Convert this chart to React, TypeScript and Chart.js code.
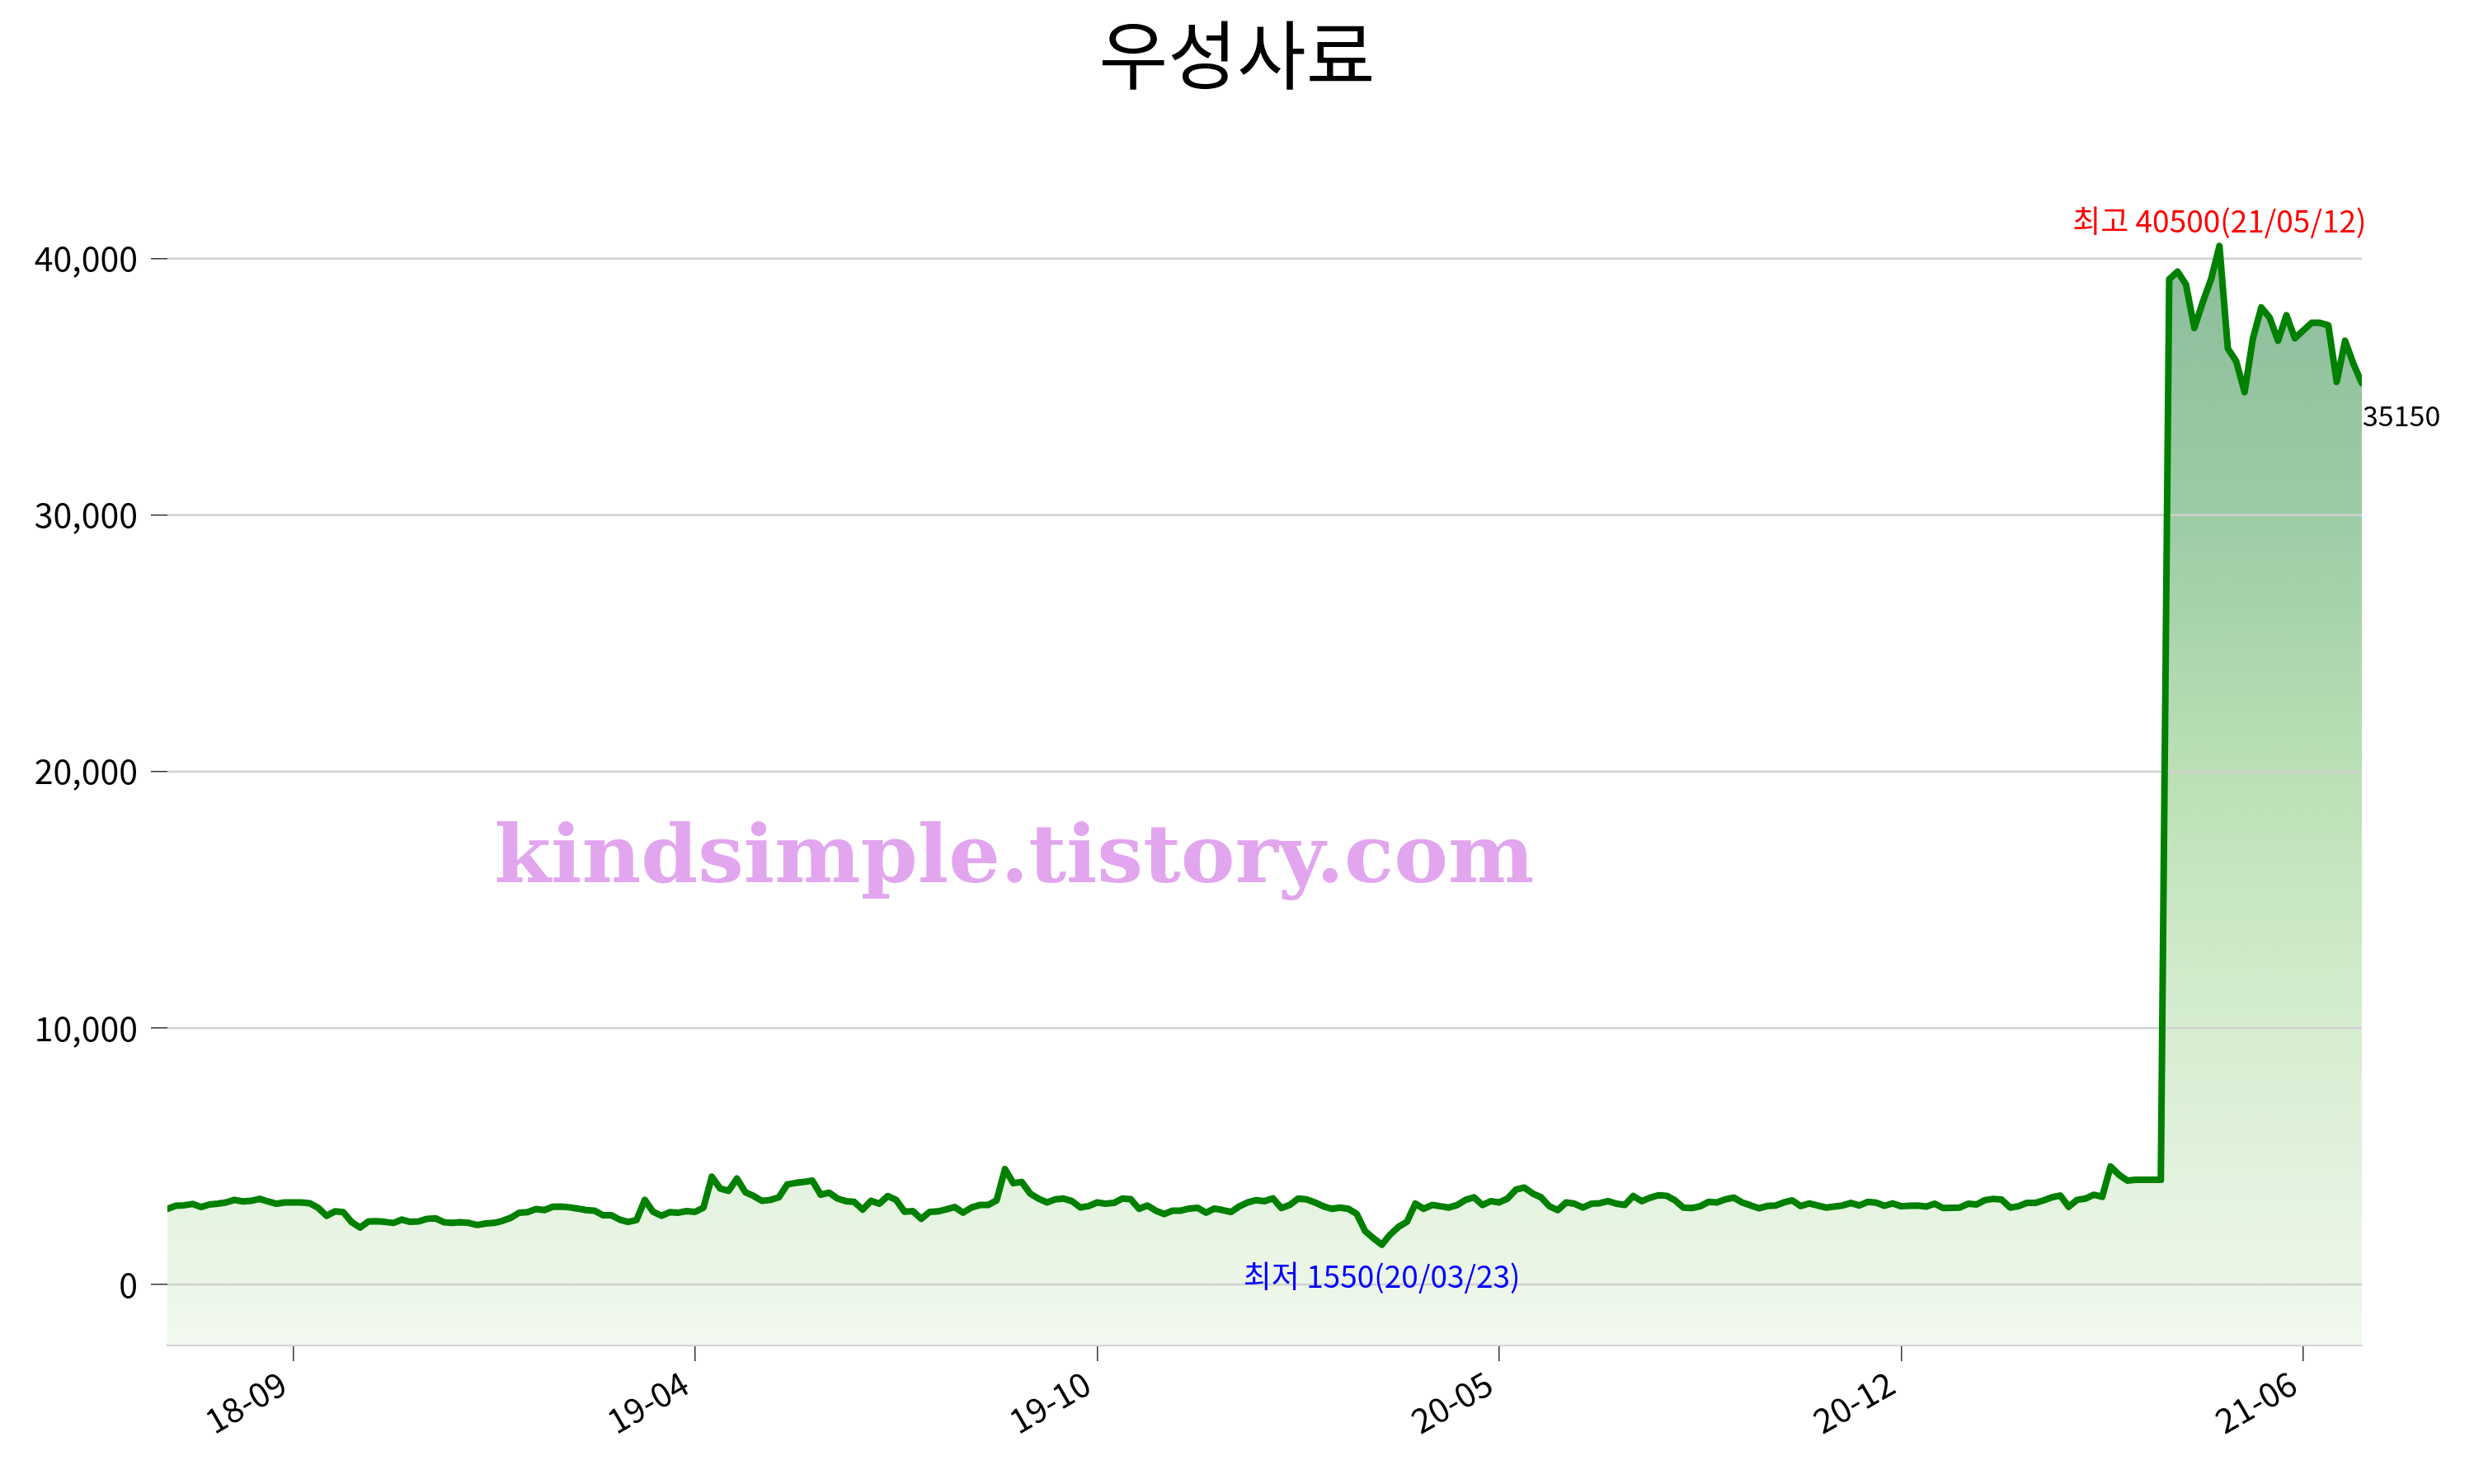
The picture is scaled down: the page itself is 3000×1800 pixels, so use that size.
import React, { useEffect, useRef } from "react";
import { Chart, registerables } from "chart.js";

Chart.register(...registerables);

const chartTitle = "우성사료";
const watermarkText = "kindsimple.tistory.com";

// closing prices, sampled roughly every 3 trading days (2018-07 .. 2021-07)
const prices: number[] = [
  2950, 3070, 3090, 3140, 3020, 3120, 3150, 3200, 3300, 3240,
  3260, 3340, 3240, 3150, 3200, 3200, 3200, 3170, 2990, 2680,
  2850, 2820, 2430, 2220, 2460, 2470, 2440, 2400, 2530, 2440,
  2460, 2560, 2580, 2430, 2400, 2430, 2400, 2320, 2380, 2400,
  2480, 2600, 2800, 2820, 2940, 2900, 3030, 3040, 3010, 2960,
  2900, 2880, 2700, 2700, 2530, 2440, 2510, 3300, 2830, 2680,
  2820, 2800, 2860, 2830, 3000, 4200, 3740, 3650, 4130, 3600,
  3450, 3260, 3300, 3400, 3900, 3960, 4000, 4050, 3500, 3580,
  3350, 3250, 3220, 2920, 3260, 3150, 3450, 3300, 2840, 2860,
  2560, 2830, 2850, 2930, 3020, 2800, 3000, 3100, 3100, 3280,
  4500, 3950, 4000, 3550, 3350, 3200, 3320, 3350, 3250, 3000,
  3060, 3200, 3150, 3180, 3350, 3330, 2950, 3080, 2880, 2750,
  2880, 2880, 2960, 2990, 2800, 2960, 2900, 2830, 3050, 3200,
  3290, 3250, 3360, 2980, 3100, 3350, 3320, 3200, 3050, 2950,
  3000, 2950, 2750, 2080, 1800, 1550, 1950, 2250, 2450, 3150,
  2950, 3100, 3050, 3000, 3100, 3300, 3400, 3100, 3250, 3200,
  3350, 3700, 3780, 3550, 3400, 3050, 2900, 3200, 3150, 3000,
  3150, 3170, 3250, 3150, 3100, 3450, 3250, 3380, 3480, 3460,
  3280, 3000, 2980, 3050, 3220, 3200, 3320, 3390, 3200, 3090,
  2970, 3060, 3080, 3200, 3280, 3060, 3160, 3080, 3000, 3040,
  3080, 3180, 3080, 3220, 3190, 3070, 3160, 3050, 3070, 3080,
  3040, 3150, 2980, 2990, 3000, 3150, 3120, 3290, 3340, 3310,
  3000, 3050, 3180, 3180, 3280, 3400, 3470, 3030, 3300, 3350,
  3500, 3420, 4600, 4280, 4050, 4080, 4080, 4080, 4080, 39200,
  39500, 39000, 37300, 38300, 39200, 40500, 36500, 36000, 34800, 36900,
  38100, 37700, 36800, 37800, 36900, 37200, 37500, 37500, 37400, 35200,
  36800, 35900, 35150,
];

const xTickIndex: number[] = [15, 63, 111, 159, 207, 255];
const xTickLabels: string[] = ["18-09", "19-04", "19-10", "20-05", "20-12", "21-06"];
const yTickValues: number[] = [0, 10000, 20000, 30000, 40000];

const maxDateLabel = "21/05/12";
const minDateLabel = "20/03/23";

const FONT = '"Noto Sans CJK KR", "Noto Sans", sans-serif';

export default function App() {
  const canvasRef = useRef<HTMLCanvasElement | null>(null);

  useEffect(() => {
    const canvas = canvasRef.current;
    if (!canvas) return;

    const maxVal = Math.max(...prices);
    const minVal = Math.min(...prices);
    const maxIdx = prices.indexOf(maxVal);
    const minIdx = prices.indexOf(minVal);
    const lastIdx = prices.length - 1;

    const gridOverFill = {
      id: "gridOverFill",
      beforeDatasetDraw(chart: any) {
        const { ctx, chartArea, scales } = chart;
        ctx.save();
        ctx.strokeStyle = "rgb(208,208,208)";
        ctx.lineWidth = 2.5;
        for (const v of yTickValues) {
          const y = scales.y.getPixelForValue(v);
          ctx.beginPath();
          ctx.moveTo(chartArea.left, y);
          ctx.lineTo(chartArea.right, y);
          ctx.stroke();
        }
        ctx.restore();
      },
    };

    const decorations = {
      id: "decorations",
      afterDatasetsDraw(chart: any) {
        const { ctx, scales } = chart;
        const xs = scales.x;
        const ys = scales.y;
        ctx.save();
        // title
        ctx.fillStyle = "#000";
        ctx.font = `91px ${FONT}`;
        ctx.textAlign = "center";
        ctx.textBaseline = "middle";
        ctx.fillText(chartTitle, 1500, 66);

        // max annotation
        ctx.font = `37px ${FONT}`;
        ctx.textBaseline = "alphabetic";
        ctx.fillStyle = "red";
        ctx.textAlign = "center";
        ctx.fillText(
          `최고 ${maxVal}(${maxDateLabel})`,
          xs.getPixelForValue(maxIdx),
          ys.getPixelForValue(maxVal) - 16
        );
        // min annotation
        ctx.fillStyle = "blue";
        ctx.fillText(
          `최저 ${minVal}(${minDateLabel})`,
          xs.getPixelForValue(minIdx),
          ys.getPixelForValue(minVal) + 52
        );
        // last value
        ctx.fillStyle = "#000";
        ctx.font = `34px ${FONT}`;
        ctx.textAlign = "left";
        ctx.fillText(
          String(prices[lastIdx]),
          xs.getPixelForValue(lastIdx) + 1,
          ys.getPixelForValue(prices[lastIdx]) + 52
        );

        // watermark
        ctx.font = 'bold 97px "DejaVu Serif", serif';
        const w = ctx.measureText(watermarkText).width;
        ctx.translate(1230, 1070);
        ctx.scale(1261 / w, 1);
        ctx.textAlign = "center";
        ctx.fillStyle = "rgb(226,166,238)";
        ctx.fillText(watermarkText, 0, 0);
        ctx.restore();
      },
    };

    const chart = new Chart(canvas, {
      type: "line",
      data: {
        datasets: [
          {
            data: prices.map((v, i) => ({ x: i, y: v })),
            borderColor: "#008000",
            borderWidth: 8,
            borderJoinStyle: "round",
            borderCapStyle: "round",
            pointRadius: 0,
            tension: 0,
            fill: "start",
            backgroundColor: (c: any) => {
              const ch = c.chart;
              const { ctx, chartArea, scales } = ch;
              if (!chartArea || !scales.y) return "rgba(0,0,0,0)";
              const top = scales.y.getPixelForValue(Math.max(...prices));
              const g = ctx.createLinearGradient(0, top, 0, chartArea.bottom);
              g.addColorStop(0, "rgb(140,188,154)");
              g.addColorStop(0.246, "rgb(156,204,166)");
              g.addColorStop(0.48, "rgb(187,224,182)");
              g.addColorStop(0.71, "rgb(214,237,208)");
              g.addColorStop(0.945, "rgb(236,246,232)");
              g.addColorStop(1, "rgb(243,249,241)");
              return g;
            },
          },
        ],
      },
      options: {
        responsive: false,
        animation: false,
        layout: { padding: { left: 0, right: 136, top: 158.3, bottom: 0 } },
        plugins: {
          legend: { display: false },
          tooltip: { enabled: false },
          title: { display: false },
        },
        scales: {
          x: {
            type: "linear",
            min: 0,
            max: prices.length - 1,
            afterBuildTicks: (s: any) => {
              s.ticks = xTickIndex.map((v) => ({ value: v }));
            },
            afterFit: (s: any) => {
              s.height = 169;
            },
            grid: {
              display: true,
              drawOnChartArea: false,
              color: "#333",
              tickLength: 20,
              lineWidth: 1.5,
            },
            border: { display: true, color: "rgb(211,211,211)", width: 3 },
            ticks: {
              autoSkip: false,
              minRotation: 30,
              maxRotation: 30,
              padding: 2,
              labelOffset: -12,
              color: "#000",
              font: { family: FONT, size: 41 },
              callback: (_v: any, i: number) => xTickLabels[i],
            },
          },
          y: {
            type: "linear",
            min: -2347,
            max: 45000,
            afterBuildTicks: (s: any) => {
              s.ticks = yTickValues.map((v) => ({ value: v }));
            },
            afterFit: (s: any) => {
              s.width = 203;
            },
            grid: {
              display: true,
              drawOnChartArea: false,
              color: "#333",
              tickLength: 20,
              lineWidth: 1.5,
            },
            border: { display: false },
            ticks: {
              padding: 16,
              color: "#000",
              font: { family: FONT, size: 41 },
              callback: (v: any) => Number(v).toLocaleString("en-US"),
            },
          },
        },
      },
      plugins: [gridOverFill, decorations],
    } as any);

    return () => {
      chart.destroy();
    };
  }, []);

  return (
    <div style={{ position: "absolute", left: 0, top: 0, width: 3000, height: 1800, background: "#fff" }}>
      <canvas ref={canvasRef} width={3000} height={1800} style={{ width: 3000, height: 1800, display: "block" }} />
    </div>
  );
}
